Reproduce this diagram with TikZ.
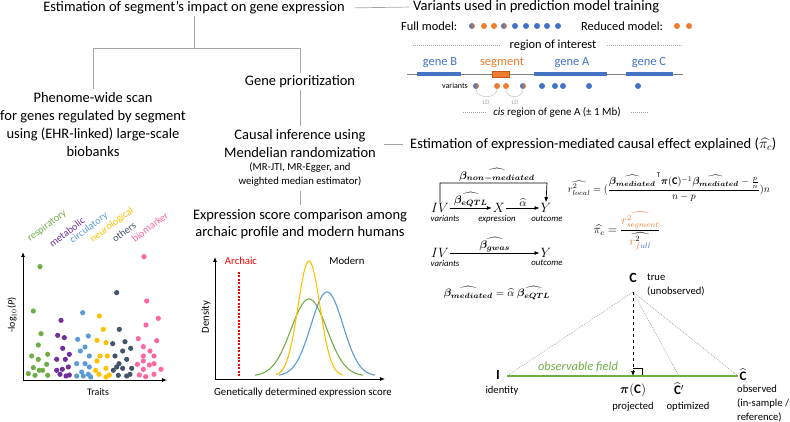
\RequirePackage{fix-cm}
\documentclass[tikz,border=0pt]{standalone}
\usepackage{amsmath,bm}
\usepackage{fontspec}
\setmainfont{Carlito}
\usetikzlibrary{arrows.meta,calc}
\definecolor{gblue}{HTML}{4472C4}
\definecolor{gorange}{HTML}{ED7D31}
\definecolor{dorange}{HTML}{C55A11}
\definecolor{tgray}{HTML}{A6A6A6}
\definecolor{cgreen}{HTML}{70AD47}
\definecolor{cpurple}{HTML}{7030A0}
\definecolor{cblue}{HTML}{5B9BD5}
\definecolor{cyellow}{HTML}{FFC000}
\definecolor{cdark}{HTML}{44546A}
\definecolor{cpink}{HTML}{FF66A3}
\definecolor{ared}{HTML}{FF0000}
\newcommand\fs[2]{\fontsize{#1}{#2}\selectfont}
\tikzset{
  tree/.style={draw=tgray, line width=0.7pt},
  hd/.style={font=\fs{14.5}{17}, inner sep=1pt},
  hdm/.style={font=\fs{14.5}{18}, align=center, inner sep=1pt},
  gtxt/.style={font=\fs{12.5}{14}, text=gblue, inner sep=1pt},
  dotb/.style={circle, fill=gblue, minimum size=6pt, inner sep=0pt},
  doto/.style={circle, fill=gorange, minimum size=6pt, inner sep=0pt},
  dotm/.style={circle, left color=gblue, right color=gorange, minimum size=6pt, inner sep=0pt},
  ldarc/.style={draw=tgray!70, line width=0.5pt},
  fine/.style={draw=gray!70, line width=0.4pt, dash pattern=on 1pt off 1pt},
  arr/.style={-{Latex[length=5pt,width=4pt]}, line width=0.7pt},
  mv/.style={font=\fs{13.5}{15}, inner sep=1pt},
  sub/.style={font=\fs{8.8}{10}\itshape, inner sep=0.5pt},
  lbl/.style={font=\fs{11}{13}, inner sep=1pt},
  axis/.style={-{Latex[length=5pt,width=4pt]}, line width=0.8pt},
  cat/.style={font=\fs{10.3}{12}, rotate=37, inner sep=0pt},
  gl/.style={font=\fs{10.6}{12}, inner sep=0pt},
}
\begin{document}
\begin{tikzpicture}[x=1pt,y=-1pt]
\useasboundingbox (0,0) rectangle (790,422);

% ---------- tree ----------
\node[hd] (t0) at (194,8) {Estimation of segment’s impact on gene expression};
\node[hd, anchor=west] (vu) at (412,7) {Variants used in prediction model training};
\draw[tree, shorten <=9pt, shorten >=3pt] (t0.east) -- (vu.west);
\coordinate (j1) at (194,48);
\node[hdm] (phe) at (93,125) {Phenome-wide scan\\for genes regulated by segment\\using (EHR-linked) large-scale\\biobanks};
\node[hd] (gp) at (300,82) {Gene prioritization};
\draw[tree, shorten >=3pt] (t0.south) -- (j1) -| (phe.north);
\draw[tree, shorten >=2pt] (j1) -| (gp.north);
\node[hdm] (cau) at (300,144) {Causal inference using\\Mendelian randomization};
\node[align=center, font=\fs{10.7}{14}, inner sep=1pt] (caus) at (300,175) {(MR-JTI, MR-Egger, and\\weighted median estimator)};
\node[hdm, font=\fs{14.5}{17}] (ex) at (300,224) {Expression score comparison among\\archaic profile and modern humans};
\node[hd, anchor=west] (est) at (409,144) {Estimation of expression-mediated causal effect explained ($\widehat{\pi_c}$)};
\draw[tree, shorten <=1pt, shorten >=3pt] (gp.south) -- (cau.north);
\draw[tree, shorten <=3pt, shorten >=3pt] (caus.south) -- (ex.north);
\draw[tree, shorten <=7pt, shorten >=6pt] (cau.east) -- (est.west);

% ---------- variants model ----------
\node[font=\fs{12.4}{14}, anchor=west, inner sep=0pt] (fm) at (401,26) {Full model:};
\node[dotm] (f1) at (472,26) {};
\node[doto] (f2) at (484,26) {};
\node[doto] (f3) at (494,26) {};
\node[dotm] (f4) at (504,26) {};
\foreach \i/\xx in {5/515,6/526,7/537,8/547,9/558} \node[dotb] (f\i) at (\xx,26) {};
\node[font=\fs{12.4}{14}, anchor=west, inner sep=0pt] (rm) at (581,26) {Reduced model:};
\node[doto] (r1) at (677,26) {};
\node[doto] (r2) at (689,26) {};

\node[font=\fs{12.4}{14}, inner sep=1pt] (roi) at (553,45) {region of interest};
\coordinate (roiL) at (413,45); \coordinate (roiR) at (682,45);
\draw[fine, shorten >=8pt] (roiL) -- (roi.west);
\draw[fine, shorten <=9pt] (roi.east) -- (roiR);

\node[gtxt] (gB) at (440,63) {gene B};
\node[gtxt, text=gorange] (gS) at (502,63) {segment};
\node[gtxt] (gA) at (572,63) {gene A};
\node[gtxt] (gC) at (649,63) {gene C};
\coordinate (chL) at (407,74); \coordinate (chR) at (683,74);
\draw[draw=gray, line width=0.6pt] (chL) -- (chR);
\fill[gblue] (417,72) rectangle (461,76.5);
\fill[gblue] (534,72) rectangle (607,76.5);
\fill[gblue] (626,72) rectangle (673,76.5);
\draw[fill=gorange, draw=dorange, line width=0.5pt] (492,71.5) rectangle (509,77);

\node[font=\fs{8}{9}, inner sep=0pt] (vlab) at (455,86) {variants};
\node[dotm] (v1) at (476,86) {};
\node[doto] (v2) at (497,86) {};
\node[doto] (v3) at (506,86) {};
\node[dotm] (v4) at (523,86) {};
\foreach \i/\xx in {5/542,6/555,7/563,8/589,9/638} \node[dotb] (v\i) at (\xx,86) {};
\draw[ldarc] (v1.south) .. controls +(0,10) and +(0,10) .. (v2.south);
\draw[ldarc] (v3.south) .. controls +(0,10) and +(0,10) .. (v4.south);
\node[font=\fs{6.5}{7}, text=tgray, inner sep=0pt] (ld1) at (486,102) {LD};
\node[font=\fs{6.5}{7}, text=tgray, inner sep=0pt] (ld2) at (515,102) {LD};

\node[font=\fs{11}{13}, inner sep=1pt] (cis) at (557,112) {\textit{cis} region of gene A (± 1 Mb)};
\coordinate (cisL) at (463,112); \coordinate (cisR) at (648,112);
\draw[fine, shorten >=6pt] (cisL) -- (cis.west);
\draw[fine, shorten <=9pt] (cis.east) -- (cisR);

% ---------- causal diagrams ----------
\node[mv] (iv1) at (440,208) {$IV$};
\node[sub] (iv1s) at (445,219) {variants};
\node[mv] (x1) at (499,208) {$X$};
\node[sub] (x1s) at (497,219) {expression};
\node[mv] (y1) at (546,208) {$Y$};
\node[sub] (y1s) at (547,219) {outcome};
\draw[arr] (iv1.east) -- node[above, lbl] {$\widehat{\bm\beta_{\bm{eQTL}}}$} (x1.west);
\draw[arr] (x1.east) -- node[above, lbl] {$\widehat{\alpha}$} (y1.west);
\coordinate (b2) at (547,183);
\draw[arr] (iv1.north) |- (b2) -- (y1.north);
\node[lbl] (bnm) at (497,175) {$\widehat{\bm\beta_{\bm{non-mediated}}}$};

\node[mv] (iv2) at (440,253) {$IV$};
\node[sub] (iv2s) at (445,264) {variants};
\node[mv] (y2) at (546,253) {$Y$};
\node[sub] (y2s) at (547,263) {outcome};
\draw[arr] (iv2.east) -- node[above, lbl] {$\widehat{\bm\beta_{\bm{gwas}}}$} (y2.west);

\node[lbl, font=\fs{10.8}{12}] (bmed) at (497,293) {$\widehat{\bm\beta_{\bm{mediated}}} = \widehat{\alpha}\;\widehat{\bm\beta_{\bm{eQTL}}}$};

\node[font=\fs{10.2}{12}, inner sep=1pt] (rl) at (669,187) {$\widehat{r^2_{local}} = (\dfrac{\widehat{\bm\beta_{\bm{mediated}}}^{\,\mathrm{T}}\bm{\pi}(\mathbf{C})^{-1}\widehat{\bm\beta_{\bm{mediated}}}-\frac{p}{n}}{n-p})n$};
\node[font=\fs{12}{14}, inner sep=1pt] (pic) at (627,231) {$\widehat{\pi_c} = \dfrac{\color{gorange}\widehat{r^2_{segment}}}{\widehat{{\color{gorange}r}^2_{\color{gorange}f\color{gblue}ull}}}$};

% ---------- geometry ----------
\coordinate (apex) at (633,292);
\coordinate (pI) at (507,376);
\coordinate (pP) at (633,376);
\coordinate (pCp) at (679,376);
\coordinate (pC) at (738,376);
\draw[gray, line width=0.4pt, dash pattern=on 1pt off 1pt] (apex) -- (pI);
\draw[gray, line width=0.4pt, dash pattern=on 1pt off 1pt] (apex) -- (pCp);
\draw[gray, line width=0.4pt, dash pattern=on 1pt off 1pt] (apex) -- (pC);
\draw[cgreen, line width=2pt] (pI) -- (pC);
\draw[-{Latex[length=5pt,width=4pt]}, dashed, line width=0.7pt] (apex) -- (pP);
\draw[line width=0.5pt] (633,368) -- (642,368) -- (642,375);
\node[font=\fs{14}{16}, inner sep=0pt] (lC) at (633,278) {$\mathbf{C}$};
\node[gl, font=\fs{10.6}{14}, align=left, anchor=west] (ltrue) at (647,285) {true\\(unobserved)};
\node[font=\fs{14}{16}, inner sep=0pt] (lI) at (498,375) {$\mathbf{I}$};
\node[gl] (lid) at (502,391) {identity};
\node[font=\fs{12.5}{14}\itshape, text=cgreen, inner sep=0pt] (obs) at (578,367) {observable field};
\node[font=\fs{13}{15}, inner sep=0pt] (lP) at (633,390) {$\bm{\pi}(\mathbf{C})$};
\node[gl] (lproj) at (633,407) {projected};
\node[font=\fs{13}{15}, inner sep=0pt] (lCp) at (679,389) {$\widehat{\mathbf{C}}'$};
\node[gl] (lopt) at (688,407) {optimized};
\node[font=\fs{13}{15}, inner sep=0pt] (lCh) at (743,375) {$\widehat{\mathbf{C}}$};
\node[gl, font=\fs{10.6}{14}, align=left, anchor=north west] (lobs) at (737,385) {observed\\(in-sample /\\reference)};

% ---------- scatter ----------
\coordinate (so) at (23,380);
\coordinate (sy) at (23,252);
\coordinate (sx) at (167,380);
\draw[axis] (so) -- (sy);
\draw[axis] (so) -- (sx);
\node[font=\fs{10}{12}, rotate=90, inner sep=0pt] (ylab) at (12,315) {-log$_{10}$(\textit{P})};
\node[font=\fs{10}{12}, inner sep=0pt] (xlab) at (98,392) {Traits};
\node[cat, text=cgreen] (c1) at (47,226) {respiratory};
\node[cat, text=cpurple] (c2) at (67,232) {metabolic};
\node[cat, text=cblue] (c3) at (89,228) {circulatory};
\node[cat, text=cyellow] (c4) at (112,225) {neurological};
\node[cat, text=cdark] (c5) at (124,232) {others};
\node[cat, text=cpink] (c6) at (150,227) {biomarker};
\foreach \a/\b in {120/215,100/348,123/416,115/450,95/483,115/493,143/478,140/508,100/518,118/526,128/526,85/536,105/541,143/541}
  \fill[cgreen] ({\a/3},{195+\b/3}) circle (2.6);
\foreach \a/\b in {183/376,173/421,193/428,188/460,208/478,170/493,196/493,205/516,170/526,187/523,180/538,198/543,208/540}
  \fill[cpurple] ({\a/3},{195+\b/3}) circle (2.6);
\foreach \a/\b in {248/353,233/433,265/423,255/456,241/468,268/483,230/506,255/506,245/531,268/516,230/543,250/543,265/538,272/546}
  \fill[cblue] ({\a/3},{195+\b/3}) circle (2.6);
\foreach \a/\b in {298/363,310/403,291/436,318/443,300/483,322/483,291/498,287/526,318/520,297/538,318/546,328/540}
  \fill[cyellow] ({\a/3},{195+\b/3}) circle (2.6);
\foreach \a/\b in {350/293,358/403,338/446,375/440,392/460,368/468,345/483,380/493,357/506,350/516,368/520,340/526,395/520,355/541,380/543,390/538}
  \fill[cdark] ({\a/3},{195+\b/3}) circle (2.6);
\foreach \a/\b in {432/185,440/318,475/370,438/390,415/431,470/437,430/455,450/468,462/483,430/483,412/508,430/498,448/510,462/506,483/523,430/523,418/540,437/545,462/538}
  \fill[cpink] ({\a/3},{195+\b/3}) circle (2.6);

% ---------- density ----------
\coordinate (do) at (215,379);
\coordinate (dy) at (215,257);
\coordinate (dx) at (385,379);
\draw[axis] (do) -- (dy);
\draw[axis] (do) -- (dx);
\node[font=\fs{10.7}{12}, rotate=90, inner sep=0pt] (dlab) at (206,317) {Density};
\node[font=\fs{10.8}{12}, inner sep=0pt] (glab) at (303,393) {Genetically determined expression score};
\node[font=\fs{10.7}{12}, text=ared, inner sep=0pt] (arch) at (241,261) {Archaic};
\node[font=\fs{10.7}{12}, inner sep=0pt] (mod) at (347,261) {Modern};
\coordinate (a1) at (239,272); \coordinate (a2) at (239,377);
\draw[ared, line width=2.5pt, dash pattern=on 2pt off 1.4pt] (a1) -- (a2);
\draw[cgreen, line width=1.1pt] plot[domain=255:363, samples=80, smooth] (\x, {376-77*exp(-((\x-309)/18)^2/2)});
\draw[cblue, line width=1.1pt] plot[domain=279:375, samples=80, smooth] (\x, {376-84*exp(-((\x-327)/16)^2/2)});
\draw[cyellow, line width=1.1pt] plot[domain=276:343, samples=80, smooth] (\x, {376-115*exp(-((\x-309)/11)^2/2)});
\end{tikzpicture}
\end{document}
